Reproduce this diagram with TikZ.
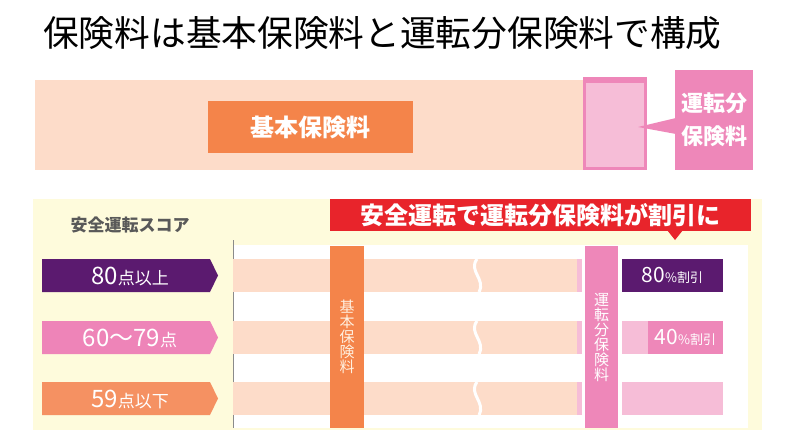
\documentclass[tikz,border=0pt]{standalone}
\usepackage{fontspec}
\setmainfont{Noto Sans CJK JP}

\definecolor{peach}{HTML}{FDDCC9}
\definecolor{orangebar}{HTML}{F4844A}
\definecolor{pinkbar}{HTML}{EE87B9}
\definecolor{lightpink}{HTML}{F6BDD7}
\definecolor{scorepurple}{HTML}{5B1A6F}
\definecolor{scorepink}{HTML}{EE84B8}
\definecolor{scoreorange}{HTML}{F59162}
\definecolor{cream}{HTML}{FEFBDC}
\definecolor{bannerred}{HTML}{E8242B}
\definecolor{graytext}{HTML}{595959}

\begin{document}
\begin{tikzpicture}[x=1pt,y=-1pt]

  \useasboundingbox (0,0) rectangle (800,441);

  \node[anchor=west,inner sep=0pt,font=\fontsize{35.7}{36}\selectfont] (title) at (43,33)
    {保険料は基本保険料と運転分保険料で構成};

  % upper band
  \fill[peach] (35,80) rectangle (583,170);

  \begin{scope}[every node/.style={inner sep=0pt,text=white,align=center}]
    \node[fill=orangebar,minimum width=205,minimum height=52,
          font=\bfseries\fontsize{24}{24}\selectfont] (basic) at (310,127) {基本保険料};
    \node[draw=pinkbar,line width=3,fill=lightpink,minimum width=61,minimum height=90] (drivebox) at (615,123.5) {};
    \node[fill=pinkbar,minimum width=78,minimum height=100,
          font=\bfseries\fontsize{22}{33}\selectfont] (drivecall) at (714,120) {運転分\\保険料};
  \end{scope}
  \fill[pinkbar] (drivebox.north west) rectangle ([yshift=-6pt]drivebox.north east);
  \coordinate (tip) at (638,127);
  \fill[pinkbar] (676,118) -- (tip) -- (676,134) -- cycle;

  % lower panel
  \fill[cream] (33,199) rectangle (762,430);
  \fill[white] (233,245) rectangle (748,428);
  \draw[graytext!70,line width=1] (233,240) -- (233,428);

  \node[inner sep=0pt,text=graytext,font=\bfseries\fontsize{17}{17}\selectfont] (score) at (130,225) {安全運転スコア};

  \node[inner sep=0pt,fill=bannerred,minimum width=421,minimum height=32,text=white,
        font=\bfseries\fontsize{24}{24}\selectfont] (banner) at (540,215) {安全運転で運転分保険料が割引に};
  \fill[bannerred] (667,230) -- (683,230) -- (675,240) -- cycle;

  % stripes
  \foreach \top in {259,321,382}{
    \fill[peach] (233,\top) rectangle (577,\top+33);
    \fill[lightpink] (577,\top) rectangle (582,\top+33);
    \draw[white,line width=3] (477,\top) .. controls (468,\top+12) and (486,\top+20) .. (479,\top+33);
  }

  % score arrows
  \fill[scorepurple] (42,259) -- (210,259) -- (218,275.5) -- (210,292) -- (42,292) -- cycle;
  \fill[scorepink] (42,321) -- (210,321) -- (218,337.5) -- (210,354) -- (42,354) -- cycle;
  \fill[scoreorange] (42,382) -- (210,382) -- (218,398.5) -- (210,415) -- (42,415) -- cycle;

  \begin{scope}[every node/.style={inner sep=0pt,text=white}]
    \node (high) at (130,276) {\fontsize{24}{24}\selectfont 80\fontsize{17}{17}\selectfont 点以上};
    \node (middle) at (130,338) {\fontsize{24}{24}\selectfont 60〜79\fontsize{17}{17}\selectfont 点};
    \node (low) at (130,399) {\fontsize{24}{24}\selectfont 59\fontsize{17}{17}\selectfont 点以下};

    % vertical bars
    \node[fill=orangebar,minimum width=34,minimum height=182,align=center,
          text=white!88!orange,font=\fontsize{15}{15}\selectfont] (basicbar) at (347,337) {基\\本\\保\\険\\料};
    \node[fill=pinkbar,minimum width=33,minimum height=182,align=center,
          font=\fontsize{15}{15}\selectfont] (drivebar) at (601.5,337) {運\\転\\分\\保\\険\\料};

    % discounts
    \node[fill=scorepurple,minimum width=101,minimum height=33] (off80) at (672.5,275.5)
      {\fontsize{21}{21}\selectfont 80\fontsize{13}{13}\selectfont\%割引};
    \fill[lightpink] (622,321) rectangle (648,354);
    \node[fill=pinkbar,minimum width=75,minimum height=33] (off40) at (685.5,337.5)
      {\fontsize{21}{21}\selectfont 40\fontsize{13}{13}\selectfont\%割引};
    \node[fill=lightpink,minimum width=101,minimum height=33] (off0) at (672.5,398.5) {};
  \end{scope}

\end{tikzpicture}
\end{document}
